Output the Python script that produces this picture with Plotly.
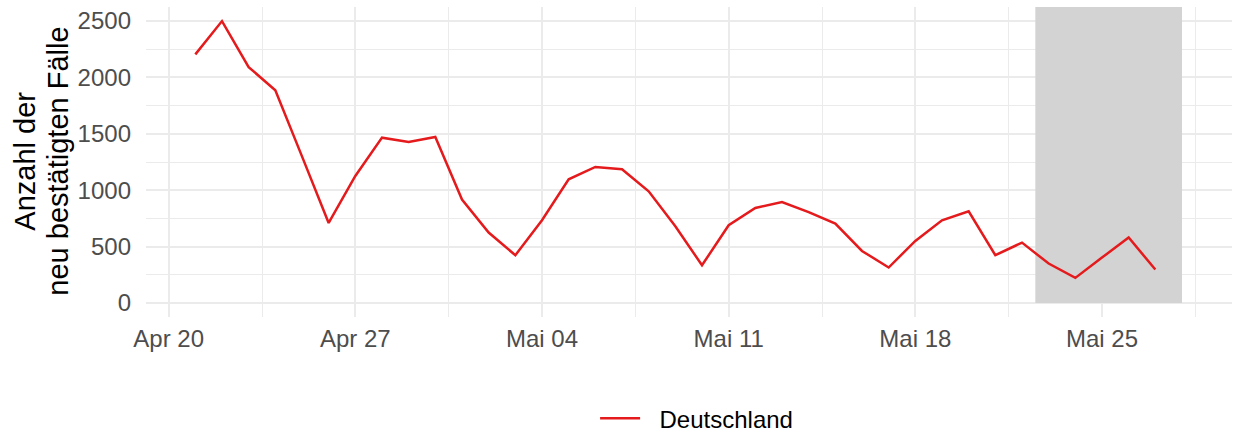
import plotly.graph_objects as go
import pandas as pd

# Data
dates = pd.date_range("2020-04-21", "2020-05-27", freq="D").strftime("%Y-%m-%d").tolist()
cases = [2205, 2500, 2092, 1886, 1300, 709, 1126, 1466, 1427, 1472,
         917, 624, 423, 733, 1097, 1206, 1185, 990, 680, 334,
         689, 842, 895, 805, 704, 461, 314, 550, 733, 813,
         423, 535, 349, 222, 402, 580, 296]
series_name = "Deutschland"
shade_start = "2020-05-22 12:00"
shade_end = "2020-05-28"

x_tickvals = ["2020-04-20", "2020-04-27", "2020-05-04", "2020-05-11", "2020-05-18", "2020-05-25"]
x_ticktext = ["Apr 20", "Apr 27", "Mai 04", "Mai 11", "Mai 18", "Mai 25"]
y_tickvals = [0, 500, 1000, 1500, 2000, 2500]
y_ticktext = ["0", "500", "1000", "1500", "2000", "2500"]
y_title_lines = ["Anzahl der", "neu bestätigten Fälle"]

FONT = "Liberation Sans, Arial, sans-serif"
GRID = "#EBEBEB"
DAY_MS = 86400000

fig = go.Figure()
fig.add_trace(go.Scatter(
    x=dates, y=cases, mode="lines", name="\u2009\u2009\u2009" + series_name,
    line=dict(color="#E41A1C", width=2.5),
    showlegend=True,
))

fig.add_shape(type="rect", xref="x", yref="y",
              x0=shade_start, x1=shade_end, y0=0, y1=2625,
              fillcolor="#D3D3D3", line=dict(width=0), layer="between")

for txt, shift in zip(y_title_lines, [-121, -88]):
    fig.add_annotation(text=txt, xref="paper", yref="paper", x=0, y=0.485,
                       xanchor="center", yanchor="middle", textangle=-90,
                       xshift=shift, yshift=5, showarrow=False,
                       font=dict(size=29, color="black", family=FONT))

fig.update_layout(
    width=1235, height=434,
    margin=dict(l=146, r=3, t=7, b=117, autoexpand=False),
    plot_bgcolor="white", paper_bgcolor="white",
    font=dict(family=FONT, size=24, color="#4D4D4D"),
    legend=dict(orientation="h", x=0.507, xanchor="center", y=-0.255, yanchor="top",
                font=dict(size=24, color="black", family=FONT), itemwidth=40),
    showlegend=True,
)

fig.update_xaxes(
    type="date", automargin=False,
    range=["2020-04-19 03:36", "2020-05-29 21:00"],
    tickvals=x_tickvals, ticktext=x_ticktext,
    showgrid=True, gridcolor=GRID, gridwidth=2,
    minor=dict(showgrid=True, gridcolor=GRID, gridwidth=1,
               tick0="2020-04-20", dtick=3.5 * DAY_MS),
    zeroline=False, showline=False, ticks="",
    tickfont=dict(size=24, color="#4D4D4D", family=FONT),
    ticklabelstandoff=5,
)
fig.update_yaxes(
    automargin=False,
    range=[-125, 2625],
    tickvals=y_tickvals, ticktext=y_ticktext,
    showgrid=True, gridcolor=GRID, gridwidth=2,
    minor=dict(showgrid=True, gridcolor=GRID, gridwidth=1, tick0=0, dtick=250),
    zeroline=False, showline=False, ticks="",
    tickfont=dict(size=24, color="#4D4D4D", family=FONT),
    ticklabelstandoff=14,
)

fig.write_html("out.html", config={"displayModeBar": False},
               post_script="document.body.style.margin='0';")
